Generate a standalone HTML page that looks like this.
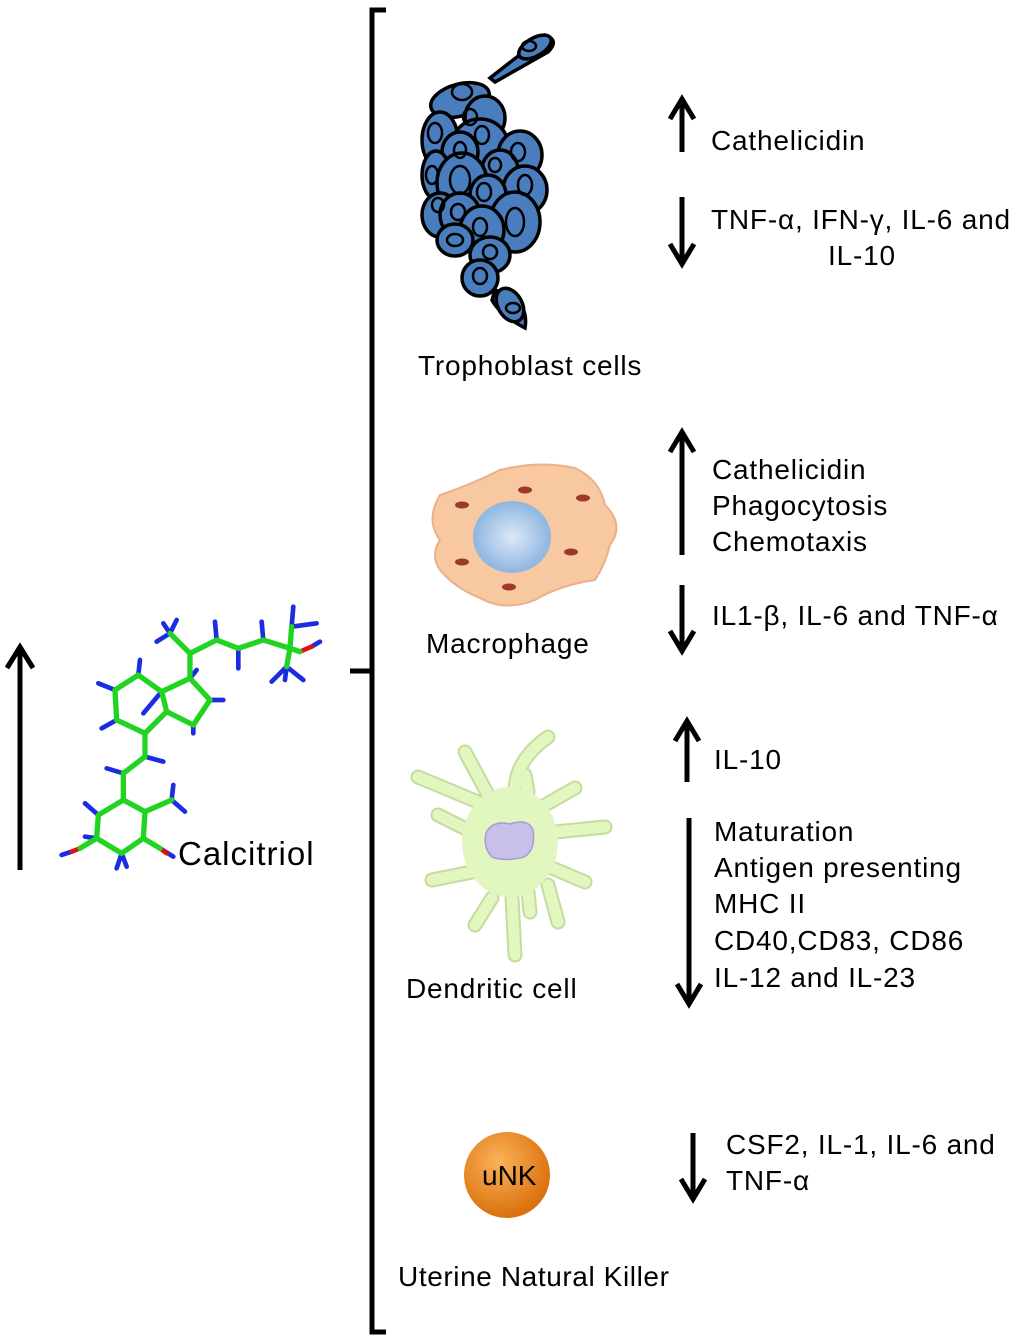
<!DOCTYPE html>
<html><head><meta charset="utf-8"><style>
body{margin:0;background:#fff}
svg{display:block}
text{font-family:"Liberation Sans",sans-serif;fill:#000}
</style></head><body>
<svg width="1024" height="1341" viewBox="0 0 1024 1341" xmlns="http://www.w3.org/2000/svg">
<defs>
<radialGradient id="nuc" cx="50%" cy="50%" r="50%"><stop offset="0" stop-color="#dbe9f7"/><stop offset="1" stop-color="#8fb5e0"/></radialGradient>
<radialGradient id="unk" cx="40%" cy="35%" r="65%"><stop offset="0" stop-color="#fbb35a"/><stop offset="1" stop-color="#d9700c"/></radialGradient>
</defs>
<!-- bracket -->
<g stroke="#000" stroke-width="5" fill="none">
<path d="M386 10 H372 V1332 H386"/>
<path d="M350 671 H372"/>
</g>
<!-- arrows -->
<g stroke="#000" stroke-width="5" fill="none" stroke-linecap="butt" stroke-linejoin="miter">
<path d="M20 870 V647 M7 668 L20 647 L33 668"/>
<path d="M682 152 V99 M670 119 L682 99 L694 119"/>
<path d="M682 197 V264 M670 244 L682 264 L694 244"/>
<path d="M682 555 V432 M670 452 L682 432 L694 452"/>
<path d="M682 585 V651 M670 631 L682 651 L694 631"/>
<path d="M687 782 V721 M675 741 L687 721 L699 741"/>
<path d="M689 818 V1004 M677 984 L689 1004 L701 984"/>
<path d="M693 1133 V1199 M681 1179 L693 1199 L705 1179"/>
</g>
<!-- molecule -->
<g transform="translate(0,590) scale(0.3333)" stroke-linecap="round" fill="none">
<g stroke="#1a2de0" stroke-width="14">
<path d="M290 745 L255 740 M295 675 L255 640 M365 790 L350 835 M365 790 L380 830 M515 630 L520 585 M515 630 L555 665 M350 390 L305 415 M345 300 L295 280 M415 255 L420 210 M485 305 L430 370 M630 330 L670 330 M580 405 L580 430 M570 265 L590 240 M510 130 L470 155 M510 130 L490 100 M510 130 L530 90 M650 150 L645 95 M715 175 L715 235 M790 150 L785 95 M875 110 L880 50 M875 110 L950 100 M860 230 L815 275 M860 230 L910 270 M860 230 L855 270 M435 500 L490 515 M370 550 L320 535 M185 795 L215 785 M480 775 L520 800 M960 155 L935 170"/>
</g>
<g stroke="#e01010" stroke-width="14"><path d="M240 775 L215 785 M480 775 L500 790 M900 185 L935 170"/></g>
<g stroke="#22d422" stroke-width="16" stroke-linejoin="round">
<path d="M290 745 L295 675 L370 630 L435 665 L430 745 L365 790 Z"/>
<path d="M370 630 L370 550 L435 500 L435 430"/>
<path d="M435 430 L350 390 L345 300 L415 255 L485 305 L500 365 Z"/>
<path d="M485 305 L570 265 L630 330 L580 405 L500 365"/>
<path d="M570 265 L570 190 L650 150 L715 175 L790 150 L870 175 L875 110 M870 175 L900 185 M870 175 L860 230 M570 190 L510 130"/>
<path d="M435 665 L515 630 M290 745 L240 775 M430 745 L480 775"/>
</g>
</g>
<text x="178" y="865" font-size="33" letter-spacing="1">Calcitriol</text>
<!-- trophoblast -->
<g stroke="#000" stroke-width="3.5" fill="#4a7dbd">
<path d="M490 78 L545 35 Q560 40 548 52 L495 82 Z"/>
<ellipse cx="535" cy="47" rx="18" ry="9" transform="rotate(-30 535 47)"/>
<ellipse cx="460" cy="100" rx="30" ry="16" transform="rotate(-15 460 100)"/>
<ellipse cx="485" cy="118" rx="20" ry="22"/>
<ellipse cx="440" cy="140" rx="18" ry="28"/>
<ellipse cx="480" cy="145" rx="28" ry="26"/>
<ellipse cx="520" cy="155" rx="22" ry="24"/>
<ellipse cx="460" cy="152" rx="18" ry="20"/>
<ellipse cx="436" cy="175" rx="14" ry="24"/>
<ellipse cx="500" cy="170" rx="18" ry="20"/>
<ellipse cx="462" cy="183" rx="25" ry="30"/>
<ellipse cx="525" cy="190" rx="22" ry="24"/>
<ellipse cx="488" cy="195" rx="18" ry="20"/>
<ellipse cx="440" cy="215" rx="18" ry="22"/>
<ellipse cx="460" cy="215" rx="20" ry="22"/>
<ellipse cx="515" cy="222" rx="25" ry="30"/>
<ellipse cx="482" cy="230" rx="22" ry="24"/>
<ellipse cx="455" cy="240" rx="18" ry="16"/>
<ellipse cx="490" cy="255" rx="20" ry="18"/>
<ellipse cx="480" cy="278" rx="18" ry="18"/>
<path d="M495 290 Q530 300 525 328 Q500 315 492 300 Z"/>
<ellipse cx="510" cy="305" rx="12" ry="18" transform="rotate(-30 510 305)"/>
</g>
<g stroke="#000" stroke-width="2.5" fill="none">
<ellipse cx="462" cy="92" rx="10" ry="8"/><ellipse cx="470" cy="117" rx="7" ry="8"/>
<ellipse cx="435" cy="133" rx="7" ry="10"/><ellipse cx="482" cy="135" rx="7" ry="9"/>
<ellipse cx="518" cy="152" rx="7" ry="9"/><ellipse cx="460" cy="150" rx="6" ry="8"/>
<ellipse cx="432" cy="175" rx="6" ry="9"/><ellipse cx="460" cy="180" rx="10" ry="14"/>
<ellipse cx="495" cy="165" rx="6" ry="7"/><ellipse cx="525" cy="185" rx="7" ry="10"/>
<ellipse cx="484" cy="192" rx="7" ry="9"/><ellipse cx="438" cy="205" rx="6" ry="7"/>
<ellipse cx="458" cy="212" rx="7" ry="8"/><ellipse cx="515" cy="222" rx="9" ry="14"/>
<ellipse cx="480" cy="227" rx="7" ry="9"/><ellipse cx="455" cy="240" rx="8" ry="6"/>
<ellipse cx="490" cy="252" rx="7" ry="7"/><ellipse cx="480" cy="276" rx="7" ry="8"/>
<ellipse cx="513" cy="308" rx="7" ry="5"/><ellipse cx="529" cy="46" rx="7" ry="5"/>
</g>
<text x="418" y="375" font-size="28" letter-spacing="0.8">Trophoblast cells</text>
<!-- macrophage -->
<path d="M440 495 Q470 485 500 470 Q540 460 575 468 Q600 480 605 505 Q625 525 610 545 Q605 565 595 580 Q560 585 535 600 Q505 612 480 598 Q455 588 440 570 Q430 555 440 540 Q425 520 440 495 Z" fill="#f8c8a0" stroke="#eab08a" stroke-width="2"/>
<ellipse cx="512" cy="537" rx="39" ry="36" fill="url(#nuc)"/>
<g fill="#9b3a2a"><ellipse cx="462" cy="505" rx="7" ry="3.5"/><ellipse cx="525" cy="490" rx="7" ry="3.5"/><ellipse cx="583" cy="498" rx="7" ry="3.5"/><ellipse cx="571" cy="552" rx="7" ry="3.5"/><ellipse cx="462" cy="562" rx="7" ry="3.5"/><ellipse cx="509" cy="587" rx="7" ry="3.5"/></g>
<text x="426" y="653" font-size="28" letter-spacing="0.8">Macrophage</text>
<!-- dendritic -->
<g stroke-linecap="round" fill="none">
<g stroke="#c5dc9f" stroke-width="15">
<path id="arms" d="M515 792 Q515 760 548 737 M492 802 L465 752 M478 802 L418 777 M472 832 L438 815 M472 872 L432 880 M492 898 L475 925 M512 898 L515 955 M528 892 L530 912 M548 885 L558 922 M552 868 L585 882 M555 832 L605 827 M545 805 L575 788 M528 792 L525 775"/>
</g>
<g stroke="#e2f6c0" stroke-width="11">
<path d="M515 792 Q515 760 548 737 M492 802 L465 752 M478 802 L418 777 M472 832 L438 815 M472 872 L432 880 M492 898 L475 925 M512 898 L515 955 M528 892 L530 912 M548 885 L558 922 M552 868 L585 882 M555 832 L605 827 M545 805 L575 788 M528 792 L525 775"/>
</g>
</g>
<ellipse cx="510" cy="842" rx="48" ry="55" fill="#e2f6c0"/>
<path d="M486 833 Q492 820 510 824 Q528 818 533 830 Q536 850 524 857 Q505 862 492 857 Q483 848 486 833 Z" fill="#c9c0ea" stroke="#a99cd4" stroke-width="1.5"/>
<text x="406" y="998" font-size="28" letter-spacing="0.8">Dendritic cell</text>
<!-- uNK -->
<circle cx="507" cy="1175" r="43" fill="url(#unk)"/>
<text x="482" y="1185" font-size="28" fill="#222">uNK</text>
<text x="398" y="1286" font-size="28" letter-spacing="0.6">Uterine Natural Killer</text>
<!-- right texts -->
<g font-size="28" letter-spacing="0.8">
<text x="711" y="150">Cathelicidin</text>
<text x="711" y="229">TNF-α, IFN-γ, IL-6 and</text>
<text x="828" y="265">IL-10</text>
<text x="712" y="479">Cathelicidin</text>
<text x="712" y="515">Phagocytosis</text>
<text x="712" y="551">Chemotaxis</text>
<text x="712" y="625">IL1-β, IL-6 and TNF-α</text>
<text x="714" y="769">IL-10</text>
<text x="714" y="841">Maturation</text>
<text x="714" y="877">Antigen presenting</text>
<text x="714" y="913">MHC II</text>
<text x="714" y="950">CD40,CD83, CD86</text>
<text x="714" y="987">IL-12 and IL-23</text>
<text x="726" y="1154">CSF2, IL-1, IL-6 and</text>
<text x="726" y="1190">TNF-α</text>
</g>
</svg>
</body></html>
